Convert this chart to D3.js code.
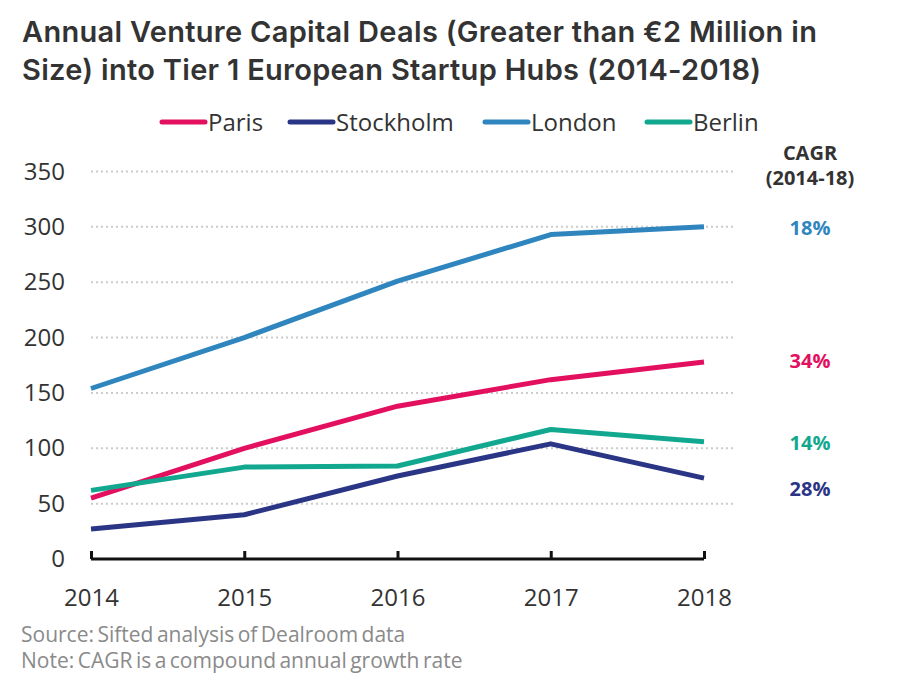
<!DOCTYPE html>
<html>
<head>
<meta charset="utf-8">
<script src="https://cdn.jsdelivr.net/npm/d3@7"></script>
<style>
  body { margin: 0; background: #fff; }
  svg text { font-family: "Open Sans", "Noto Sans", sans-serif; }
</style>
</head>
<body>
<svg id="chart" width="906" height="685"></svg>
<script>
const years = [2014, 2015, 2016, 2017, 2018];
const cities = ["Paris", "Stockholm", "London", "Berlin"];
const colors = ["#e2105f", "#2b3585", "#2f86bf", "#12a88f"];
const paris = [55, 100, 138, 162, 178];
const stockholm = [27, 40, 75, 104, 73];
const london = [154, 200, 251, 293, 300];
const berlin = [62, 83, 84, 117, 106];
const cagr = ["34%", "28%", "18%", "14%"];
const cagrY = [361, 489, 228, 443];
const yTicks = [0, 50, 100, 150, 200, 250, 300, 350];

const series = [paris, stockholm, london, berlin];

const svg = d3.select("#chart");

// title
const title = svg.append("text")
    .attr("x", 22)
    .attr("fill", "#333")
    .style("font-family", "Inter, Lato, sans-serif")
    .style("font-weight", 600)
    .style("font-size", "29px")
    .style("letter-spacing", "0.3px");
title.append("tspan").attr("x", 22).attr("y", 42)
    .text("Annual Venture Capital Deals (Greater than €2 Million in");
title.append("tspan").attr("x", 22).attr("y", 80)
    .text("Size) into Tier 1 European Startup Hubs (2014-2018)");

// legend
const legendX = [162, 290, 485, 647];
const legend = svg.append("g").selectAll("g")
    .data(cities)
    .join("g")
    .attr("transform", (d, i) => `translate(${legendX[i]},122)`);
legend.append("line")
    .attr("x1", 0).attr("x2", 43)
    .attr("stroke", (d, i) => colors[i])
    .attr("stroke-width", 5)
    .attr("stroke-linecap", "round");
legend.append("text")
    .attr("x", 46).attr("y", 9)
    .attr("fill", "#333")
    .style("font-size", "24px")
    .text(d => d);

const x = d3.scaleLinear().domain([2014, 2018]).range([91, 704]);
const y = d3.scaleLinear().domain([0, 350]).range([559, 171.5]);

// dotted grid
svg.append("g").selectAll("line")
    .data(yTicks.filter(d => d > 0))
    .join("line")
    .attr("x1", 91).attr("x2", 736)
    .attr("y1", d => y(d)).attr("y2", d => y(d))
    .attr("stroke", "#cccccc")
    .attr("stroke-width", 2)
    .attr("stroke-dasharray", "2,3");

// y axis
const yAxis = svg.append("g")
    .attr("transform", "translate(91,0)")
    .call(d3.axisLeft(y).tickValues(yTicks).tickSize(0).tickPadding(26));
yAxis.select(".domain").remove();
yAxis.selectAll("text")
    .attr("fill", "#333")
    .style("font-size", "24px")
    .style("font-family", "'Open Sans', sans-serif");

// x axis
const xAxis = svg.append("g")
    .attr("transform", "translate(0,559)")
    .call(d3.axisBottom(x).tickValues(years).tickFormat(d3.format("d"))
        .tickSize(-8).tickPadding(30));
xAxis.select(".domain")
    .attr("stroke", "#111")
    .attr("stroke-width", 3)
    .attr("d", `M${x(2014)},0H${x(2018)}`);
xAxis.selectAll(".tick line").attr("stroke", "#111").attr("stroke-width", 3);
xAxis.selectAll("text")
    .attr("fill", "#333")
    .style("font-size", "24px")
    .style("font-family", "'Open Sans', sans-serif");

// lines
const line = d3.line().x((d, i) => x(years[i])).y(d => y(d));
svg.append("g").selectAll("path")
    .data(series)
    .join("path")
    .attr("d", line)
    .attr("fill", "none")
    .attr("stroke", (d, i) => colors[i])
    .attr("stroke-width", 5)
    .attr("stroke-linejoin", "round");

// CAGR column
svg.append("text")
    .attr("x", 810).attr("text-anchor", "middle")
    .attr("fill", "#333")
    .style("font-weight", 700).style("font-size", "20px")
    .selectAll("tspan")
    .data(["CAGR", "(2014-18)"])
    .join("tspan")
    .attr("x", 810)
    .attr("y", (d, i) => 160 + i * 25)
    .text(d => d);

svg.append("g").selectAll("text")
    .data(cagr)
    .join("text")
    .attr("x", 810)
    .attr("y", (d, i) => cagrY[i] + 7)
    .attr("text-anchor", "middle")
    .attr("fill", (d, i) => colors[i])
    .style("font-weight", 700)
    .style("font-size", "20px")
    .text(d => d);

// notes
svg.append("g").selectAll("text")
    .data(["Source: Sifted analysis of Dealroom data",
           "Note: CAGR is a compound annual growth rate"])
    .join("text")
    .attr("x", 21)
    .attr("y", (d, i) => 642 + i * 26)
    .attr("fill", "#8a8a8a")
    .style("font-size", "21px")
    .style("word-spacing", "-2px")
    .text(d => d);
</script>
</body>
</html>
